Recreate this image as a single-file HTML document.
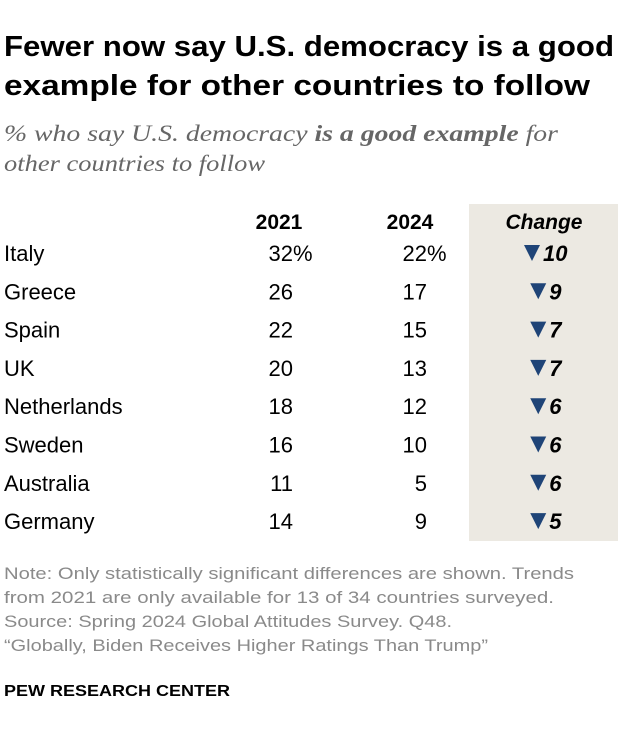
<!DOCTYPE html>
<html><head><meta charset="utf-8"><style>
body{margin:0;background:#fff;width:620px;height:736px;overflow:hidden;font-family:"Liberation Sans",sans-serif}
</style></head><body>
<svg width="620" height="736" style="position:absolute;left:0;top:0">
<text x="4" y="56" font-size="29" font-weight="bold" fill="#000" textLength="610" lengthAdjust="spacingAndGlyphs">Fewer now say U.S. democracy is a good</text>
<text x="4" y="95" font-size="29" font-weight="bold" fill="#000" textLength="586" lengthAdjust="spacingAndGlyphs">example for other countries to follow</text>
<text x="4" y="141" font-family="Liberation Serif,serif" font-style="italic" font-size="23" fill="#666" textLength="554" lengthAdjust="spacingAndGlyphs">% who say U.S. democracy <tspan font-weight="bold">is a good example</tspan> for</text>
<text x="4" y="171" font-family="Liberation Serif,serif" font-style="italic" font-size="23" fill="#666" textLength="261" lengthAdjust="spacingAndGlyphs">other countries to follow</text>
<rect x="469" y="204" width="149" height="337" fill="#ece9e2"/>
<text x="279" y="229" font-size="21" font-weight="bold" text-anchor="middle">2021</text>
<text x="410" y="229" font-size="21" font-weight="bold" text-anchor="middle">2024</text>
<text x="544" y="229" font-size="21" font-weight="bold" font-style="italic" text-anchor="middle">Change</text>
<g id="rows"></g>
<g font-size="17" fill="#8a8a8a">
<text x="4" y="579" textLength="570" lengthAdjust="spacingAndGlyphs">Note: Only statistically significant differences are shown. Trends</text>
<text x="4" y="603" textLength="550" lengthAdjust="spacingAndGlyphs">from 2021 are only available for 13 of 34 countries surveyed.</text>
<text x="4" y="627" textLength="448" lengthAdjust="spacingAndGlyphs">Source: Spring 2024 Global Attitudes Survey. Q48.</text>
<text x="4" y="651" textLength="484" lengthAdjust="spacingAndGlyphs">“Globally, Biden Receives Higher Ratings Than Trump”</text>
</g>
<text x="4" y="696" font-size="16" font-weight="bold" fill="#000" textLength="226" lengthAdjust="spacingAndGlyphs">PEW RESEARCH CENTER</text>
</svg>
<script>
const countries=["Italy","Greece","Spain","UK","Netherlands","Sweden","Australia","Germany"];
const v2021=[32,26,22,20,18,16,11,14];
const v2024=[22,17,15,13,12,10,5,9];
const g=document.getElementById('rows');
const NS="http://www.w3.org/2000/svg";
function t(x,y,s,attrs){const e=document.createElementNS(NS,'text');e.setAttribute('x',x);e.setAttribute('y',y);e.setAttribute('font-size','22');for(const k in attrs)e.setAttribute(k,attrs[k]);e.textContent=s;g.appendChild(e);return e;}
countries.forEach((c,i)=>{
  const y=261+i*38.3;
  const a=t(4,y,c,{});
  
  
  const b=t(293,y,v2021[i],{'text-anchor':'end'});
  
  
  if(i===0){const p=t(293,y,'%',{});}
  const d=t(427,y,v2024[i],{'text-anchor':'end'});
  
  
  if(i===0){const p=t(427,y,'%',{});}
  const ch=v2021[i]-v2024[i];
  const s=String(ch);
  const w=19+s.length*12.5;
  const x0=546-w/2;
  const tri=document.createElementNS(NS,'polygon');
  tri.setAttribute('points',`${x0},${y-16} ${x0+16},${y-16} ${x0+8},${y}`);
  tri.setAttribute('fill','#1f4477');
  
  
  g.appendChild(tri);
  const n=t(x0+19,y,s,{'font-weight':'bold','font-style':'italic'});
  
  
});
</script>
</body></html>
